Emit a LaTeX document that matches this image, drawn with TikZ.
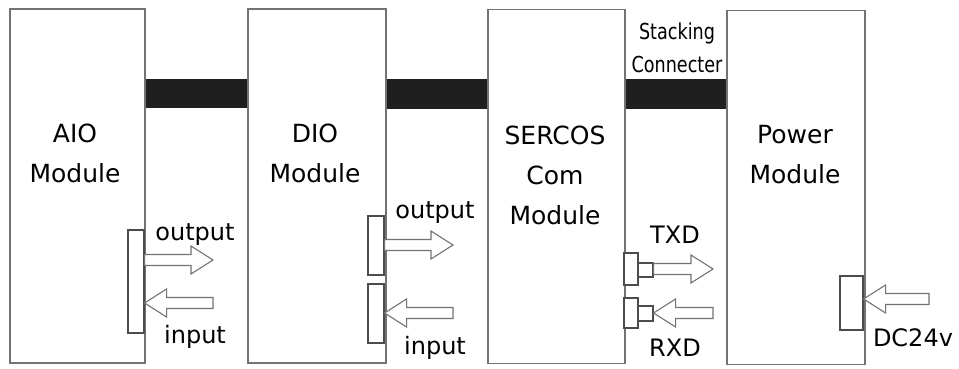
\documentclass[tikz,border=0pt]{standalone}
\usepackage{fontspec}
\setmainfont{DejaVu Sans}
\newfontfamily\narrowfont[FakeStretch=0.8]{DejaVu Sans}
\usetikzlibrary{calc}

% hollow block arrow from #1 (tail) to #2 (tip), both on one height
\newcommand{\hollowarrow}[2]{%
  \draw[flow] let \p1=(#1), \p2=(#2), \p3=($(#2)!22pt!(#1)$) in
    (\x1,{\y1+5.5pt}) -- (\x3,{\y1+5.5pt}) -- (\x3,{\y1+14pt}) -- (\x2,\y2)
    -- (\x3,{\y1-14pt}) -- (\x3,{\y1-5.5pt}) -- (\x1,{\y1-5.5pt}) -- cycle;}

\begin{document}
\begin{tikzpicture}[x=1pt, y=-1pt, every node/.style={text=black}]
  \useasboundingbox (0,0) rectangle (959,369);
  \tikzset{module/.style={draw=black!55, line width=1.3pt, minimum height=354pt,
            inner sep=0pt},
           modtext/.style={font=\fontsize{25}{40}\selectfont, align=center},
           port/.style={draw=black!70, line width=1.1pt, fill=white, inner sep=0pt},
           flow/.style={draw=black!55, line width=1.1pt, fill=white},
           bar/.style={fill=black!88},
           sig/.style={font=\fontsize{24}{24}\selectfont}}

  \node[module, minimum width=135pt] (aio) at (77.5,186) {};
  \node[module, minimum width=138pt] (dio) at (317,186) {};
  \node[module, minimum width=137pt] (sercos) at (556.5,186.5) {};
  \node[module, minimum width=138pt] (power) at (796,187.5) {};

  \node[modtext] (aiot) at (75,153) {AIO\\Module};
  \node[modtext] (diot) at (315,153) {DIO\\Module};
  \node[modtext] (sercost) at (555,175) {SERCOS\\Com\\Module};
  \node[modtext] (powert) at (795,155) {Power\\Module};

  % stacking connectors
  \fill[bar] ([yshift=-71pt]aio.north east) rectangle ([yshift=-100pt]dio.north west);
  \fill[bar] ([yshift=-71pt]dio.north east) rectangle ([yshift=-100pt]sercos.north west);
  \fill[bar] ([yshift=-70pt]sercos.north east) rectangle ([yshift=-99pt]power.north west);
  \node[font=\narrowfont\fontsize{22}{33}\selectfont, align=center] (stack) at (677,48)
    {Stacking\\Connecter};

  \node[port, minimum width=16pt, minimum height=103pt] (aioport) at (136,281.5) {};
  \node[port, minimum width=16pt, minimum height=59pt] (dioout) at (376,245.5) {};
  \node[port, minimum width=16pt, minimum height=59pt] (dioin) at (376,313.5) {};
  \node[port, minimum width=14pt, minimum height=32pt] (txdbase) at (631,269) {};
  \node[port, minimum width=15pt, minimum height=14pt] (txdplug) at (645.5,270) {};
  \node[port, minimum width=14pt, minimum height=30pt] (rxdbase) at (631,313) {};
  \node[port, minimum width=15pt, minimum height=15pt] (rxdplug) at (645.5,313.5) {};
  \node[port, minimum width=23pt, minimum height=54pt] (pwrport) at (851.5,303) {};

  \coordinate (aiotx) at (213,260);
  \coordinate (aiorx) at (213,303);
  \coordinate (diotx) at (453,245);
  \coordinate (diorx) at (453,313);
  \coordinate (txd) at (713,269);
  \coordinate (rxd) at (713,313);
  \coordinate (dcin) at (929,299);

  \hollowarrow{aioport.east |- aiotx}{aiotx}
  \hollowarrow{aiorx}{aioport.east |- aiorx}
  \hollowarrow{dioout.east |- diotx}{diotx}
  \hollowarrow{diorx}{dioin.east |- diorx}
  \hollowarrow{txdplug.east |- txd}{txd}
  \hollowarrow{rxd}{rxdplug.east |- rxd}
  \hollowarrow{dcin}{pwrport.east |- dcin}

  \node[sig] (aioo) at (195,235) {output};
  \node[sig] (aioi) at (195,337) {input};
  \node[sig] (dioo) at (435,213) {output};
  \node[sig] (dioi) at (435,348) {input};
  \node[sig] (txdt) at (675,235) {TXD};
  \node[sig] (rxdt) at (675,348) {RXD};
  \node[sig] (dct) at (913,338) {DC24v};
\end{tikzpicture}
\end{document}
